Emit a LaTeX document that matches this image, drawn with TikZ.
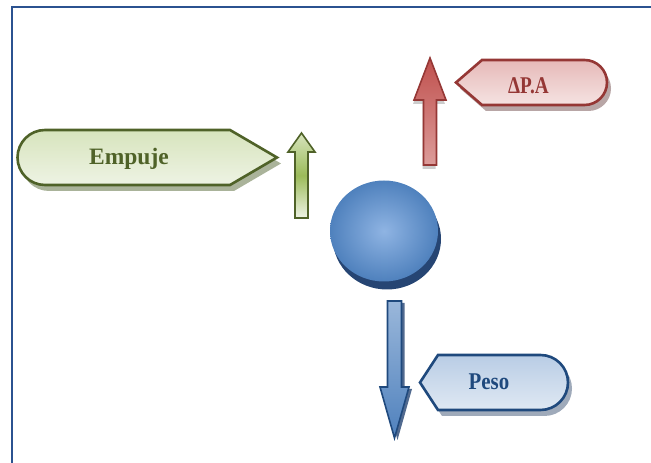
\documentclass[tikz,border=0pt]{standalone}
\usepackage{fontspec}
\setmainfont{Liberation Serif}
\usetikzlibrary{shadows,shadings,calc}

\definecolor{framecol}{HTML}{2B5290}
\definecolor{olivedark}{HTML}{4F6228}
\definecolor{oliveA}{HTML}{D7E4BD}
\definecolor{oliveB}{HTML}{EEF3E4}
\definecolor{oliveArrow}{HTML}{9BBB59}
\definecolor{oliveshadow}{HTML}{8E9A78}
\definecolor{redline}{HTML}{953735}
\definecolor{redA}{HTML}{E6B9B8}
\definecolor{redB}{HTML}{F5E3E2}
\definecolor{redArrow}{HTML}{C0504D}
\definecolor{redArrowB}{HTML}{DC9C9A}
\definecolor{redshadow}{HTML}{A08888}
\definecolor{blueline}{HTML}{1F497D}
\definecolor{blueA}{HTML}{B9CDE5}
\definecolor{blueB}{HTML}{DFE8F3}
\definecolor{blueArrow}{HTML}{4F81BD}
\definecolor{blueArrowB}{HTML}{9AB7DA}
\definecolor{blueshadow}{HTML}{7F8EA3}
\definecolor{ballin}{HTML}{8FB4E3}
\definecolor{ballshadow}{HTML}{264573}

\begin{document}
\begin{tikzpicture}[x=1pt, y=1pt,
  tagshape/.style={line width=2.6pt, line join=miter,
    drop shadow={shadow xshift=4pt, shadow yshift=-6pt, fill=#1, opacity=0.75}},
  blockarrow/.style={line width=1.6pt, line join=miter},
  tagtext/.style={anchor=base, inner sep=0pt}]

  \useasboundingbox (0,0) rectangle (651,463);

  % frame
  \draw[framecol, line width=2.3pt] (12,-5) -- (12,456) -- (660,456);

  % empuje
  \draw[tagshape=oliveshadow, draw=olivedark, top color=oliveA, bottom color=oliveB]
    (230,333) -- (277,305.5) -- (230,278) -- (45,278)
    arc[start angle=270, end angle=90, radius=27.5] -- cycle;
  \node[tagtext, text=olivedark, font=\bfseries\fontsize{23.5}{28}\selectfont] (empuje) at (129,298) {Empuje};
  \draw[blockarrow, draw=olivedark, top color=oliveA, bottom color=oliveB, middle color=oliveArrow]
    (295,245) -- (308,245) -- (308,311) -- (315,311) -- (301.5,330) -- (288,311) -- (295,311) -- cycle;

  % delta P.A
  \draw[tagshape=redshadow, draw=redline, top color=redA, bottom color=redB]
    (456,380.5) -- (482,403) -- (584.5,403)
    arc[start angle=90, end angle=-90, radius=22.5] -- (482,358) -- cycle;
  \node[tagtext, text=redline, xscale=0.8, font=\bfseries\fontsize{24}{28}\selectfont] (dpa) at (528.5,369) {ΔP.A};
  \draw[blockarrow, draw=redline, top color=redArrow, bottom color=redArrowB,
    drop shadow={shadow xshift=-1pt, shadow yshift=-4pt, fill=black!50, opacity=0.4}]
    (423.5,298) -- (436.5,298) -- (436.5,363) -- (446,363) -- (430,405) -- (414,363) -- (423.5,363) -- cycle;

  % ball
  \fill[ballshadow] (387,224) ellipse[x radius=54, y radius=50.5];
  \shade[inner color=ballin, outer color=blueArrow] (384,232) ellipse[x radius=54, y radius=50.5];

  % peso
  \draw[blockarrow, draw=blueline, top color=blueArrowB, bottom color=blueArrow,
    drop shadow={shadow xshift=3pt, shadow yshift=-2pt, fill=ballshadow, opacity=0.8}]
    (387.5,162) -- (401.5,162) -- (401.5,76) -- (409,76) -- (394.5,25) -- (380,76) -- (387.5,76) -- cycle;
  \draw[tagshape=blueshadow, draw=blueline, top color=blueA, bottom color=blueB]
    (420,80.5) -- (438,108) -- (540.5,108)
    arc[start angle=90, end angle=-90, radius=27.5] -- (438,53) -- cycle;
  \node[tagtext, text=blueline, xscale=0.87, font=\bfseries\fontsize{24}{28}\selectfont] (peso) at (489,73) {Peso};
\end{tikzpicture}
\end{document}
